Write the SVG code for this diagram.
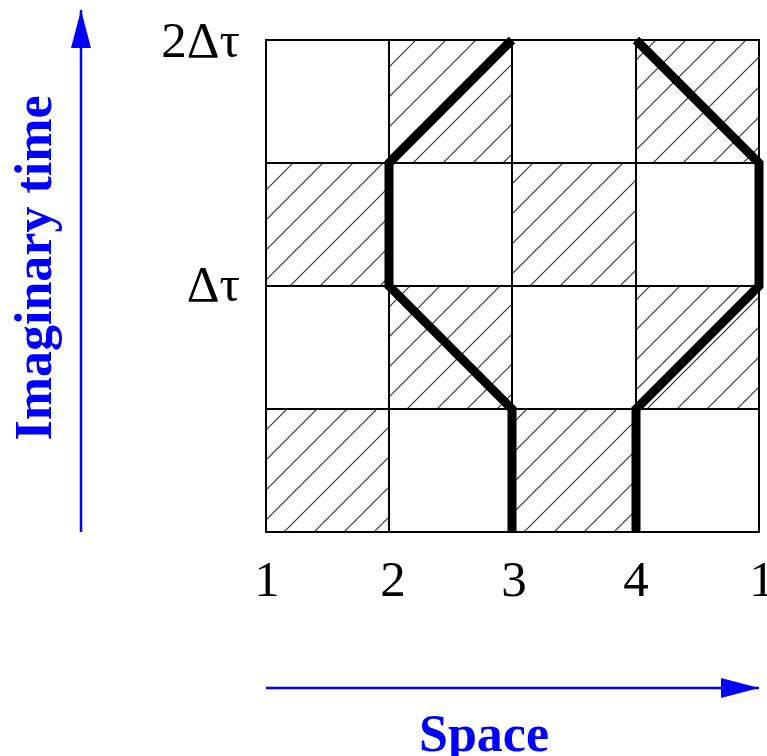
<svg xmlns="http://www.w3.org/2000/svg" width="767" height="756" viewBox="0 0 767 756">
<defs>
<pattern id="hatch" patternUnits="userSpaceOnUse" width="30" height="30" x="266" y="40">
<line x1="0" y1="30" x2="30" y2="0" stroke="#333" stroke-width="1.2"/>
<line x1="-3" y1="3" x2="3" y2="-3" stroke="#333" stroke-width="1.2"/>
<line x1="27" y1="33" x2="33" y2="27" stroke="#333" stroke-width="1.2"/>
</pattern>
<marker id="ah" markerWidth="38" markerHeight="20" refX="38" refY="10" orient="auto" markerUnits="userSpaceOnUse">
<path d="M0,0 L38,10 L0,20 Z" fill="#0000ff"/>
</marker>
</defs>
<style>
.cell{stroke:#000;stroke-width:2}
.h{fill:url(#hatch)}
.w{fill:#fff}
.world{fill:none;stroke:#000;stroke-width:9;stroke-linejoin:miter}
.lab{font-family:"Liberation Serif",serif;font-size:51px;fill:#000}
.blue{font-family:"Liberation Serif",serif;font-size:52px;font-weight:bold;fill:#0000ff}
.ax{stroke:#0000ff;stroke-width:2.5;fill:none}
</style>
<g id="grid">
<rect class="cell w" x="266" y="40" width="123" height="123"/>
<rect class="cell h" x="389" y="40" width="123" height="123"/>
<rect class="cell w" x="512" y="40" width="124" height="123"/>
<rect class="cell h" x="636" y="40" width="123" height="123"/>
<rect class="cell h" x="266" y="163" width="123" height="123"/>
<rect class="cell w" x="389" y="163" width="123" height="123"/>
<rect class="cell h" x="512" y="163" width="124" height="123"/>
<rect class="cell w" x="636" y="163" width="123" height="123"/>
<rect class="cell w" x="266" y="286" width="123" height="123"/>
<rect class="cell h" x="389" y="286" width="123" height="123"/>
<rect class="cell w" x="512" y="286" width="124" height="123"/>
<rect class="cell h" x="636" y="286" width="123" height="123"/>
<rect class="cell h" x="266" y="409" width="123" height="123"/>
<rect class="cell w" x="389" y="409" width="123" height="123"/>
<rect class="cell h" x="512" y="409" width="124" height="123"/>
<rect class="cell w" x="636" y="409" width="123" height="123"/>
</g>
<g id="connectors">
<path class="world" d="M512,532 L512,409 L389,286 L389,163 L512,40"/>
<path class="world" d="M636,532 L636,409 L759,286 L759,163 L636,40"/>
<line class="ax" x1="81" y1="532" x2="81" y2="10" marker-end="url(#ah)"/>
<line class="ax" x1="266" y1="688" x2="759" y2="688" marker-end="url(#ah)"/>
</g>
<g id="labels">
<text class="lab" x="240" y="57" text-anchor="end">2Δτ</text>
<text class="lab" x="240" y="301" text-anchor="end">Δτ</text>
<text class="lab" x="267" y="596" text-anchor="middle">1</text>
<text class="lab" x="393" y="596" text-anchor="middle">2</text>
<text class="lab" x="514" y="596" text-anchor="middle">3</text>
<text class="lab" x="636" y="596" text-anchor="middle">4</text>
<text class="lab" x="762" y="596" text-anchor="middle">1</text>
<text class="blue" x="484" y="751" text-anchor="middle">Space</text>
<text class="blue" transform="translate(51,268) rotate(-90)" text-anchor="middle">Imaginary time</text>
</g>
</svg>
